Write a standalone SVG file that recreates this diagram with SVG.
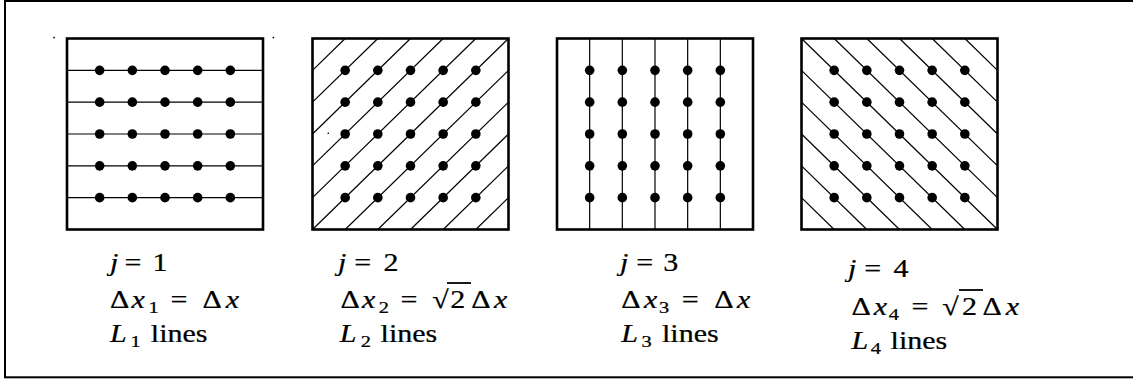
<svg xmlns="http://www.w3.org/2000/svg" width="1133" height="385" viewBox="0 0 1133 385">
<style>
.frame{fill:none;stroke:#000;stroke-width:2}
.box{fill:none;stroke:#000;stroke-width:2.6}
.gl{stroke:#000;stroke-width:1.2;fill:none}
.dot{fill:#000}
.spk{fill:#000}
text{font-family:"Liberation Serif","DejaVu Serif",serif;font-size:25px;fill:#000;stroke:#000;stroke-width:0.25}
.it{font-style:italic}
.sub{font-size:17px}
.vin{stroke:#000;stroke-width:1.8}
</style>
<defs>
<g id="dots">
<circle class="dot" cx="0" cy="70.33" r="4.8"/><circle class="dot" cx="0" cy="102.17" r="4.8"/><circle class="dot" cx="0" cy="134" r="4.8"/><circle class="dot" cx="0" cy="165.83" r="4.8"/><circle class="dot" cx="0" cy="197.67" r="4.8"/>
</g>
</defs>
<rect class="frame" x="5" y="1" width="1140" height="376.3"/>
<rect class="spk" x="53.3" y="36.8" width="1.5" height="1.5"/>
<rect class="spk" x="272.6" y="36.8" width="1.5" height="1.5"/>
<rect class="spk" x="327.6" y="132.6" width="1.4" height="1.4"/>

<g id="connectors">
<g id="lines1">
<line class="gl" x1="67" y1="70.33" x2="263" y2="70.33"/>
<line class="gl" x1="67" y1="102.17" x2="263" y2="102.17"/>
<line class="gl" x1="67" y1="134" x2="263" y2="134"/>
<line class="gl" x1="67" y1="165.83" x2="263" y2="165.83"/>
<line class="gl" x1="67" y1="197.67" x2="263" y2="197.67"/>
</g>
<g id="lines2">
<line class="gl" x1="312.5" y1="70.33" x2="345.17" y2="38.5"/>
<line class="gl" x1="312.5" y1="102.17" x2="377.83" y2="38.5"/>
<line class="gl" x1="312.5" y1="134" x2="410.5" y2="38.5"/>
<line class="gl" x1="312.5" y1="165.83" x2="443.17" y2="38.5"/>
<line class="gl" x1="312.5" y1="197.67" x2="475.83" y2="38.5"/>
<line class="gl" x1="312.5" y1="229.5" x2="508.5" y2="38.5"/>
<line class="gl" x1="345.17" y1="229.5" x2="508.5" y2="70.33"/>
<line class="gl" x1="377.83" y1="229.5" x2="508.5" y2="102.17"/>
<line class="gl" x1="410.5" y1="229.5" x2="508.5" y2="134"/>
<line class="gl" x1="443.17" y1="229.5" x2="508.5" y2="165.83"/>
<line class="gl" x1="475.83" y1="229.5" x2="508.5" y2="197.67"/>
</g>
<g id="lines3">
<line class="gl" x1="589.67" y1="38.5" x2="589.67" y2="229.5"/>
<line class="gl" x1="622.33" y1="38.5" x2="622.33" y2="229.5"/>
<line class="gl" x1="655" y1="38.5" x2="655" y2="229.5"/>
<line class="gl" x1="687.67" y1="38.5" x2="687.67" y2="229.5"/>
<line class="gl" x1="720.33" y1="38.5" x2="720.33" y2="229.5"/>
</g>
<g id="lines4">
<line class="gl" x1="801.5" y1="38.5" x2="997.5" y2="229.5"/>
<line class="gl" x1="834.17" y1="38.5" x2="997.5" y2="197.67"/>
<line class="gl" x1="866.83" y1="38.5" x2="997.5" y2="165.83"/>
<line class="gl" x1="899.5" y1="38.5" x2="997.5" y2="134"/>
<line class="gl" x1="932.17" y1="38.5" x2="997.5" y2="102.17"/>
<line class="gl" x1="964.83" y1="38.5" x2="997.5" y2="70.33"/>
<line class="gl" x1="801.5" y1="70.33" x2="964.83" y2="229.5"/>
<line class="gl" x1="801.5" y1="102.17" x2="932.17" y2="229.5"/>
<line class="gl" x1="801.5" y1="134" x2="899.5" y2="229.5"/>
<line class="gl" x1="801.5" y1="165.83" x2="866.83" y2="229.5"/>
<line class="gl" x1="801.5" y1="197.67" x2="834.17" y2="229.5"/>
</g>
</g>

<g id="panel1">
<rect class="box" x="67" y="38.5" width="196" height="191"/>
<use href="#dots" x="99.67"/><use href="#dots" x="132.33"/><use href="#dots" x="165"/><use href="#dots" x="197.67"/><use href="#dots" x="230.33"/>
<g transform="translate(110,0) scale(1.2,1)">
<text y="271"><tspan class="it" x="0">j</tspan><tspan x="12">=</tspan><tspan x="35.5">1</tspan></text>
<text y="308"><tspan x="0">Δ</tspan><tspan class="it" x="18">x</tspan><tspan class="sub" x="32" y="313">1</tspan><tspan x="50.5" y="308">=</tspan><tspan x="77">Δ</tspan><tspan class="it" x="96.5">x</tspan></text>
<text y="342"><tspan class="it" x="0">L</tspan><tspan class="sub" x="17" y="347">1</tspan><tspan x="34" y="342">lines</tspan></text>
</g>
</g>

<g id="panel2">
<rect class="box" x="312.5" y="38.5" width="196" height="191"/>
<use href="#dots" x="345.17"/><use href="#dots" x="377.83"/><use href="#dots" x="410.5"/><use href="#dots" x="443.17"/><use href="#dots" x="475.83"/>
<g transform="translate(338,0) scale(1.2,1)">
<text y="271"><tspan class="it" x="0">j</tspan><tspan x="13.5">=</tspan><tspan x="38">2</tspan></text>
<text y="308"><tspan x="2">Δ</tspan><tspan class="it" x="20">x</tspan><tspan class="sub" x="34" y="313">2</tspan><tspan x="52" y="308">=</tspan><tspan x="78.5">√</tspan><tspan x="93.5">2</tspan><tspan x="111">Δ</tspan><tspan class="it" x="130">x</tspan></text>
<text y="342"><tspan class="it" x="1.5">L</tspan><tspan class="sub" x="19" y="347">2</tspan><tspan x="35.5" y="342">lines</tspan></text>
</g>
<line class="vin" x1="447" y1="283" x2="471" y2="283"/>
</g>

<g id="panel3">
<rect class="box" x="557" y="38.5" width="196" height="191"/>
<use href="#dots" x="589.67"/><use href="#dots" x="622.33"/><use href="#dots" x="655"/><use href="#dots" x="687.67"/><use href="#dots" x="720.33"/>
<g transform="translate(620,0) scale(1.2,1)">
<text y="271"><tspan class="it" x="0">j</tspan><tspan x="13.5">=</tspan><tspan x="36">3</tspan></text>
<text y="308"><tspan x="1">Δ</tspan><tspan class="it" x="20">x</tspan><tspan class="sub" x="32.5" y="313">3</tspan><tspan x="51.5" y="308">=</tspan><tspan x="78.5">Δ</tspan><tspan class="it" x="97.5">x</tspan></text>
<text y="342"><tspan class="it" x="1">L</tspan><tspan class="sub" x="18" y="347">3</tspan><tspan x="35" y="342">lines</tspan></text>
</g>
</g>

<g id="panel4">
<rect class="box" x="801.5" y="38.5" width="196" height="191"/>
<use href="#dots" x="834.17"/><use href="#dots" x="866.83"/><use href="#dots" x="899.5"/><use href="#dots" x="932.17"/><use href="#dots" x="964.83"/>
<g transform="translate(848,0) scale(1.2,1)">
<text y="277"><tspan class="it" x="0">j</tspan><tspan x="13.5">=</tspan><tspan x="38">4</tspan></text>
<text y="315"><tspan x="3">Δ</tspan><tspan class="it" x="21.5">x</tspan><tspan class="sub" x="34" y="320">4</tspan><tspan x="53" y="315">=</tspan><tspan x="78.5">√</tspan><tspan x="95">2</tspan><tspan x="112">Δ</tspan><tspan class="it" x="131.5">x</tspan></text>
<text y="349"><tspan class="it" x="3">L</tspan><tspan class="sub" x="19" y="354">4</tspan><tspan x="35.5" y="349">lines</tspan></text>
</g>
<line class="vin" x1="959" y1="290" x2="983" y2="290"/>
</g>
</svg>
